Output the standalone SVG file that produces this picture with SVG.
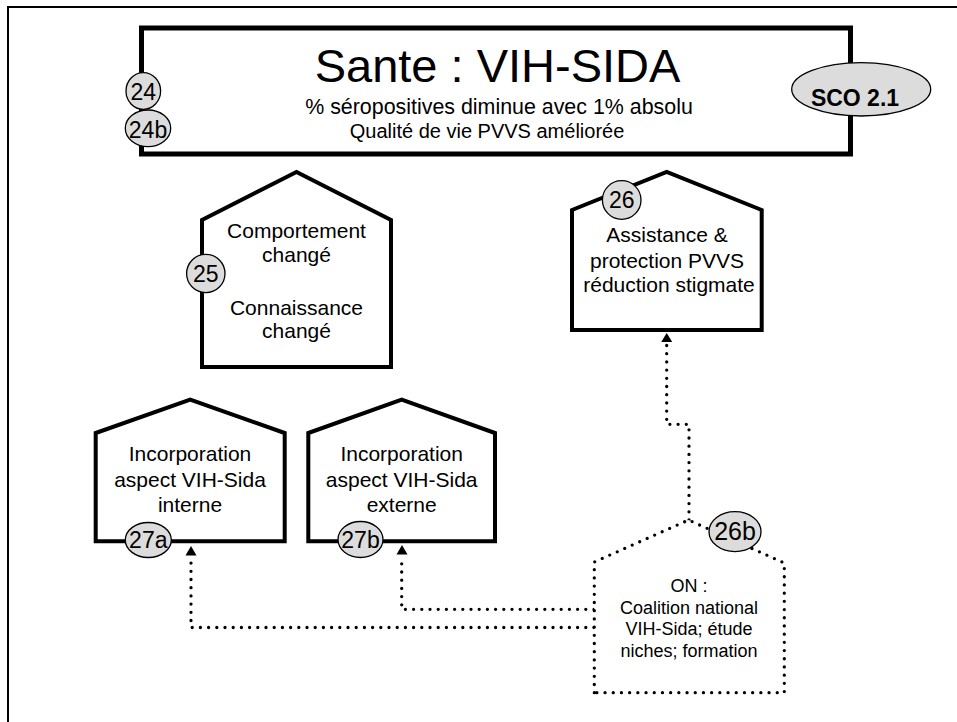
<svg xmlns="http://www.w3.org/2000/svg" width="957" height="722" viewBox="0 0 957 722">
<defs>
<style>
text{font-family:"Liberation Sans",Arial,sans-serif;fill:#000;text-anchor:middle}
.house{fill:#fff;stroke:#000;stroke-width:4;stroke-linejoin:miter}
.dhouse{fill:#fff;stroke:#000;stroke-width:3.3;stroke-dasharray:0 8.2;stroke-linecap:round}
.badge{fill:#dcdcdc;stroke:#000;stroke-width:1.3}
.dot{fill:none;stroke:#000;stroke-width:3.3;stroke-dasharray:0 8.2;stroke-linecap:round;stroke-linejoin:round}
.lbl{font-size:21px}
.num{font-size:23px}
</style>
</defs>
<rect width="957" height="722" fill="#fff"/>
<path d="M8,722 V7 H957" fill="none" stroke="#000" stroke-width="2"/>

<g id="connectors">
<path class="dot" d="M689,520 V424.3 H666.7 V345"/>
<path d="M666.7,333 L661.2,342 L672.2,342 Z" fill="#000"/>
<path class="dot" d="M594,609.3 H401.7 V556"/>
<path d="M402,545 L396.5,554.5 L407.5,554.5 Z" fill="#000"/>
<path class="dot" d="M594,627.5 H191 V558"/>
<path d="M191,546 L185.5,555.5 L196.5,555.5 Z" fill="#000"/>
</g>

<g id="sco21">
<rect x="141.5" y="28" width="709" height="126" fill="#fff" stroke="#000" stroke-width="5"/>
<text x="497.5" y="82" style="font-size:47px">Sante : VIH-SIDA</text>
<text x="499" y="114" style="font-size:21.4px">% séropositives diminue avec 1% absolu</text>
<text x="487" y="138" style="font-size:20px">Qualité de vie PVVS améliorée</text>
<ellipse class="badge" cx="861.2" cy="89.3" rx="69.5" ry="26.7"/>
<text x="855" y="106" style="font-size:23px;font-weight:bold">SCO 2.1</text>
</g>
<g id="n24">
<ellipse class="badge" cx="143.3" cy="91" rx="17.3" ry="18.3"/>
<text class="num" x="143.3" y="99.5">24</text>
</g>
<g id="n24b">
<ellipse class="badge" cx="148" cy="128.3" rx="22.7" ry="18.3"/>
<text class="num" x="148" y="138">24b</text>
</g>

<g id="n25">
<path class="house" d="M202,367 V220 L296.5,172 L391,220 V367 Z"/>
<text class="lbl" x="296.5" y="238">Comportement</text>
<text class="lbl" x="296.5" y="262">changé</text>
<text class="lbl" x="296.5" y="315">Connaissance</text>
<text class="lbl" x="296.5" y="338">changé</text>
<ellipse class="badge" cx="205.8" cy="273.5" rx="19.2" ry="19.2"/>
<text class="num" x="205.8" y="282">25</text>
</g>

<g id="n26">
<path class="house" d="M572,330 V210 L666.7,172 L761.7,210 V330 Z"/>
<text class="lbl" x="667" y="242">Assistance &amp;</text>
<text class="lbl" x="667" y="268">protection PVVS</text>
<text class="lbl" x="669" y="292">réduction stigmate</text>
<ellipse class="badge" cx="621.7" cy="200" rx="19.3" ry="19.3"/>
<text class="num" x="621.7" y="208">26</text>
</g>

<g id="n27a">
<path class="house" d="M95.7,541.3 V433 L190.2,399.5 L284.7,433 V541.3 Z"/>
<text class="lbl" x="190" y="461">Incorporation</text>
<text class="lbl" x="190" y="487">aspect VIH-Sida</text>
<text class="lbl" x="190" y="512">interne</text>
<ellipse class="badge" cx="148.3" cy="540" rx="23" ry="17.5"/>
<text class="num" x="148.3" y="547.5">27a</text>
</g>

<g id="n27b">
<path class="house" d="M308.3,541.3 V433 L401.7,399.5 L495,433 V541.3 Z"/>
<text class="lbl" x="401.7" y="461">Incorporation</text>
<text class="lbl" x="401.7" y="487">aspect VIH-Sida</text>
<text class="lbl" x="401.7" y="512">externe</text>
<ellipse class="badge" cx="360.5" cy="539.5" rx="22.5" ry="18"/>
<text class="num" x="360.5" y="547.5">27b</text>
</g>

<g id="n26b">
<path class="dhouse" d="M594.3,692.7 V562 L688.5,520 L784.3,563 V692.7 Z"/>
<text x="689" y="592" style="font-size:18px">ON :</text>
<text x="689" y="613.5" style="font-size:18px">Coalition national</text>
<text x="689" y="635" style="font-size:18px">VIH-Sida; étude</text>
<text x="689" y="657" style="font-size:18px">niches; formation</text>
<ellipse class="badge" cx="735" cy="531.7" rx="26" ry="20"/>
<text x="735" y="540" style="font-size:25px">26b</text>
</g>
</svg>
